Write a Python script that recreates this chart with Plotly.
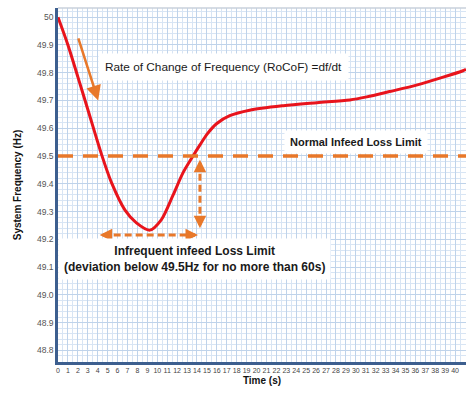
import plotly.graph_objects as go

# ---- data ----
time_s = [0, 1.0, 2.0, 3.05, 4.4, 5.4, 6.75, 7.9, 9.25, 10.4, 11.6, 12.6, 13.6,
          14.3, 15.0, 16.0, 17.3, 19.3, 22.7, 26.1, 29.4, 31.1, 33.4, 36.2, 40.8, 41.1]
freq_hz = [50.0, 49.9, 49.785, 49.662, 49.504, 49.403, 49.305, 49.259, 49.233, 49.27,
           49.36, 49.44, 49.50, 49.54, 49.578, 49.617, 49.645, 49.665, 49.681,
           49.692, 49.702, 49.713, 49.732, 49.756, 49.807, 49.812]

x_ticks = list(range(0, 42))
y_tick_vals = [50.0, 49.9, 49.8, 49.7, 49.6, 49.5, 49.4, 49.3, 49.2, 49.1, 49.0, 48.9, 48.8]
y_tick_text = ["50", "49.9", "49.8", "49.7", "49.6", "49.5", "49.4", "49.3", "49.2",
               "49.1", "49.0", "48.9", "48.8"]

normal_limit = 49.5
min_freq_level = 49.215
arrow_t_start, arrow_t_end = 4.2, 14.1
vert_t = 14.3
vert_top, vert_bottom = 49.486, 49.24
rocof_tail = (2.0, 49.929)
rocof_head = (4.05, 49.70)

ORANGE = "#e8782a"
RED = "#e8141c"
AXIS_BLUE = "#3d5f8f"
FONT = "Liberation Sans, Arial, sans-serif"

fig = go.Figure()
fig.add_trace(go.Scatter(x=time_s, y=freq_hz, mode="lines",
                         line=dict(color=RED, width=3, shape="spline", smoothing=0.8),
                         hoverinfo="skip", showlegend=False))

fig.add_shape(type="line", xref="paper", x0=0, x1=1, yref="y", y0=normal_limit, y1=normal_limit,
              line=dict(color=ORANGE, width=3.5, dash="15px,10px"))
fig.add_shape(type="line", x0=arrow_t_start + 0.3, x1=arrow_t_end - 0.3, y0=min_freq_level, y1=min_freq_level,
              line=dict(color=ORANGE, width=3, dash="7px,4px"))
fig.add_shape(type="line", x0=vert_t, x1=vert_t, y0=vert_top - 0.01, y1=vert_bottom + 0.01,
              line=dict(color=ORANGE, width=3, dash="7px,4px"))
fig.add_shape(type="line", xref="paper", yref="paper", x0=0, x1=1, y0=1, y1=1,
              line=dict(color="#c9d1db", width=1.5))

anns = []
for (xt, yt, ax, ay) in [(arrow_t_start, min_freq_level, 8, 0), (arrow_t_end, min_freq_level, -8, 0),
                         (vert_t, vert_top, 0, 8), (vert_t, vert_bottom, 0, -8)]:
    anns.append(dict(x=xt, y=yt, ax=ax, ay=ay, xref="x", yref="y", showarrow=True,
                     arrowhead=2, arrowsize=1, arrowwidth=2.5, arrowcolor=ORANGE, text=""))
anns.append(dict(x=rocof_head[0], y=rocof_head[1], ax=rocof_tail[0], ay=rocof_tail[1],
                 xref="x", yref="y", axref="x", ayref="y", showarrow=True,
                 arrowhead=2, arrowsize=1.2, arrowwidth=2.5, arrowcolor=ORANGE, text=""))
anns.append(dict(x=16.7, y=49.822, xref="x", yref="y", showarrow=False,
                 text="Rate of Change of Frequency (RoCoF) =df/dt",
                 font=dict(family=FONT, size=11.8, color="#1a1a1a"),
                 bgcolor="white", borderpad=6))
anns.append(dict(x=30.0, y=49.552, xref="x", yref="y", showarrow=False,
                 text="<b>Normal Infeed Loss Limit</b>",
                 font=dict(family=FONT, size=11, color="#1a1a1a"),
                 bgcolor="white", borderpad=5))
anns.append(dict(x=13.8, y=49.128, xref="x", yref="y", showarrow=False,
                 text="<b>Infrequent infeed Loss Limit</b><br><b>(deviation below 49.5Hz for no more than 60s)</b>",
                 font=dict(family=FONT, size=12, color="#1a1a1a"),
                 bgcolor="white", borderpad=5, align="center"))

fig.update_layout(
    width=466, height=396,
    margin=dict(l=58, r=0, t=8, b=34, autoexpand=False),
    paper_bgcolor="white", plot_bgcolor="white",
    annotations=anns,
    font=dict(family=FONT),
    xaxis=dict(range=[0, 41.1], tickvals=x_ticks, ticktext=[str(v) for v in x_ticks],
               tickfont=dict(size=7, color="#444"), ticks="", ticklen=0, automargin=False,
               showline=True, linecolor=AXIS_BLUE, linewidth=3,
               showgrid=True, gridcolor="#bfd3ea", gridwidth=1,
               minor=dict(dtick=0.5, showgrid=True, gridcolor="#d8e5f4", gridwidth=1),
               zeroline=False,
               title=dict(text="<b>Time (s)</b>", font=dict(size=10, color="#111"), standoff=4)),
    yaxis=dict(range=[48.758, 50.033], tickvals=y_tick_vals, ticktext=y_tick_text,
               tickfont=dict(size=8.5, color="#555"), ticks="", ticklen=0, automargin=False,
               showline=True, linecolor=AXIS_BLUE, linewidth=2.5,
               showgrid=True, gridcolor="#bfd3ea", gridwidth=1,
               minor=dict(dtick=0.02, showgrid=True, gridcolor="#d8e5f4", gridwidth=1),
               zeroline=False,
               title=dict(text="<b>System Frequency (Hz)</b>", font=dict(size=10, color="#111"), standoff=14)),
)

fig.write_html("out.html", config={"displayModeBar": False},
               post_script="document.body.style.margin='0';")
